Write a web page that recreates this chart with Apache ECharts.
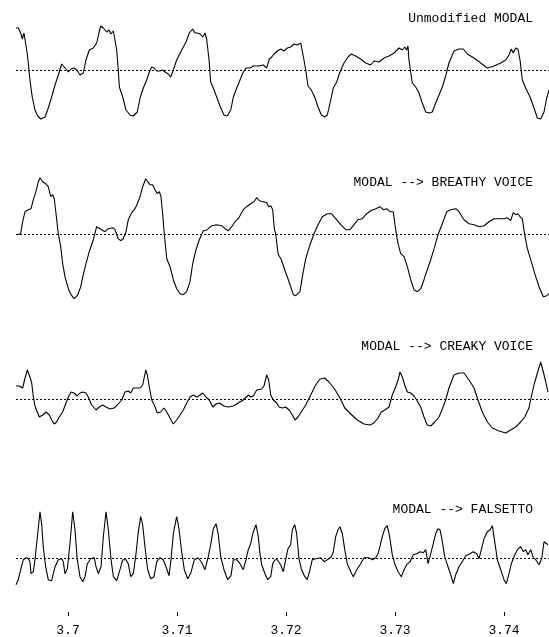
<!DOCTYPE html>
<html><head><meta charset="utf-8">
<script src="https://cdn.jsdelivr.net/npm/echarts@6/dist/echarts.min.js"></script>
<style>html,body{margin:0;padding:0;background:#fff}#c{width:549px;height:637px}</style>
</head><body><div id="c"></div>
<script>
// time in milliseconds, amplitude in arbitrary units (0 = dotted baseline)
const panelTitles = ['Unmodified MODAL', 'MODAL --> BREATHY VOICE', 'MODAL --> CREAKY VOICE', 'MODAL --> FALSETTO'];
const tickValues = [3700, 3710, 3720, 3730, 3740];
const tickLabels = ['3.7', '3.71', '3.72', '3.73', '3.74'];

const modal = [[3695.23,42],[3695.44,42],[3695.66,37],[3695.81,31],[3695.96,37],[3696.08,36],[3696.21,20],[3696.36,7],[3696.51,-10],[3696.72,-27],[3696.97,-40],[3697.22,-46],[3697.50,-49],[3697.89,-47],[3698.19,-38],[3698.50,-27],[3698.81,-15],[3699.11,-5],[3699.42,6],[3699.66,3],[3700.03,-2],[3700.28,1],[3700.55,2],[3700.80,0],[3701.10,-5],[3701.40,-3],[3701.65,10],[3701.95,20],[3702.32,22],[3702.63,27],[3702.84,37],[3703.00,44],[3703.24,42],[3703.42,43],[3703.55,38],[3703.76,40],[3703.94,36],[3704.16,39],[3704.31,37],[3704.47,20],[3704.61,0],[3704.71,-17],[3705.02,-27],[3705.32,-40],[3705.69,-45],[3705.99,-46],[3706.36,-42],[3706.61,-28],[3706.91,-18],[3707.22,-10],[3707.46,-2],[3707.68,3],[3707.89,2],[3708.14,-1],[3708.44,-1],[3708.69,0],[3708.90,-2],[3709.20,-4],[3709.42,-7],[3709.66,0],[3709.97,10],[3710.43,20],[3710.83,28],[3711.13,37],[3711.44,41],[3711.65,37],[3711.86,37],[3712.11,36],[3712.36,33],[3712.57,37],[3712.72,31],[3712.94,10],[3713.09,-12],[3713.33,-18],[3713.64,-27],[3713.94,-36],[3714.31,-45],[3714.61,-46],[3714.93,-40],[3715.17,-27],[3715.48,-18],[3715.78,-10],[3716.08,-2],[3716.33,2],[3716.70,2],[3717.00,4],[3717.46,4],[3717.92,5],[3718.23,2],[3718.47,11],[3718.69,13],[3718.90,16],[3719.20,19],[3719.51,21],[3719.82,19],[3720.12,22],[3720.43,23],[3720.73,26],[3721.04,25],[3721.35,27],[3721.50,27],[3721.65,10],[3721.81,0],[3722.02,-16],[3722.32,-20],[3722.63,-27],[3722.94,-37],[3723.24,-45],[3723.55,-47],[3723.79,-45],[3724.04,-33],[3724.34,-18],[3724.65,-12],[3724.95,-2],[3725.32,7],[3725.69,13],[3725.99,16],[3726.39,14],[3726.85,11],[3727.31,7],[3727.77,5],[3728.07,9],[3728.53,8],[3728.99,12],[3729.45,14],[3729.91,17],[3730.37,22],[3730.67,20],[3730.89,23],[3731.07,20],[3731.19,24],[3731.28,10],[3731.44,-2],[3731.59,-13],[3731.90,-17],[3732.20,-23],[3732.50,-33],[3732.82,-42],[3733.12,-43],[3733.42,-42],[3733.73,-33],[3734.04,-25],[3734.34,-17],[3734.65,-6],[3734.95,7],[3735.41,19],[3735.87,21],[3736.27,21],[3736.63,16],[3737.25,12],[3737.86,7],[3738.47,2],[3739.08,4],[3739.70,7],[3740.16,10],[3740.46,15],[3740.67,21],[3740.85,17],[3741.07,22],[3741.28,21],[3741.47,10],[3741.68,-10],[3741.99,-18],[3742.39,-27],[3742.75,-38],[3743.06,-48],[3743.37,-49],[3743.67,-42],[3743.92,-28],[3744.13,-20]];

const breathy = [[3695.29,0],[3695.44,-2],[3695.66,1],[3695.84,13],[3696.06,23],[3696.36,25],[3696.61,26],[3696.82,35],[3697.06,43],[3697.28,53],[3697.43,57],[3697.68,53],[3697.95,51],[3698.19,48],[3698.41,38],[3698.60,40],[3698.74,36],[3698.90,21],[3699.11,1],[3699.33,-12],[3699.51,-29],[3699.72,-42],[3700.03,-54],[3700.28,-60],[3700.55,-64],[3700.85,-61],[3701.17,-52],[3701.40,-40],[3701.65,-29],[3701.95,-17],[3702.32,-5],[3702.63,8],[3702.94,6],[3703.39,3],[3703.70,6],[3704.10,7],[3704.31,5],[3704.61,-4],[3704.83,-6],[3705.07,-4],[3705.32,3],[3705.53,15],[3705.84,22],[3706.15,26],[3706.36,31],[3706.61,38],[3706.85,48],[3707.13,56],[3707.31,53],[3707.52,50],[3707.77,50],[3707.98,45],[3708.19,41],[3708.38,43],[3708.53,38],[3708.69,20],[3708.83,1],[3709.06,-24],[3709.36,-32],[3709.66,-45],[3709.97,-54],[3710.28,-59],[3710.58,-60],[3710.89,-57],[3711.19,-47],[3711.44,-29],[3711.74,-15],[3712.05,-5],[3712.41,4],[3712.78,5],[3713.18,9],[3713.64,10],[3714.10,9],[3714.40,6],[3714.71,4],[3715.02,8],[3715.32,13],[3715.62,16],[3716.08,25],[3716.39,28],[3716.76,31],[3717.06,33],[3717.31,37],[3717.55,34],[3717.92,33],[3718.23,32],[3718.41,28],[3718.60,29],[3718.78,25],[3718.93,6],[3719.06,0],[3719.27,-19],[3719.57,-25],[3719.88,-35],[3720.18,-44],[3720.43,-52],[3720.67,-60],[3720.89,-61],[3721.28,-57],[3721.50,-42],[3721.81,-24],[3722.20,-10],[3722.57,1],[3722.94,10],[3723.33,18],[3723.79,21],[3724.16,21],[3724.56,16],[3725.02,10],[3725.48,5],[3725.87,5],[3726.24,10],[3726.61,15],[3727.00,16],[3727.40,21],[3727.77,24],[3728.23,26],[3728.62,28],[3728.93,25],[3729.24,26],[3729.54,23],[3729.84,23],[3730.06,5],[3730.28,-9],[3730.52,-19],[3730.83,-22],[3731.13,-32],[3731.44,-45],[3731.74,-55],[3732.05,-57],[3732.36,-54],[3732.66,-45],[3732.96,-35],[3733.28,-25],[3733.64,-12],[3733.94,0],[3734.34,11],[3734.74,23],[3735.11,25],[3735.57,26],[3735.87,23],[3736.33,15],[3736.79,11],[3737.25,10],[3737.71,8],[3738.17,9],[3738.62,13],[3739.08,16],[3739.54,16],[3740.00,16],[3740.30,17],[3740.61,14],[3740.85,22],[3741.07,20],[3741.28,21],[3741.47,18],[3741.68,16],[3741.90,0],[3742.14,-14],[3742.45,-25],[3742.82,-39],[3743.21,-52],[3743.61,-62],[3743.92,-61],[3744.13,-59]];

const creaky = [[3695.23,13],[3695.53,13],[3695.84,11],[3696.06,21],[3696.27,29],[3696.51,22],[3696.67,16],[3696.82,2],[3696.97,-7],[3697.18,-13],[3697.37,-18],[3697.68,-16],[3697.98,-13],[3698.28,-16],[3698.50,-21],[3698.74,-25],[3698.96,-23],[3699.20,-18],[3699.51,-13],[3699.82,-4],[3700.03,2],[3700.28,7],[3700.55,6],[3700.85,3],[3701.10,6],[3701.35,7],[3701.65,6],[3701.86,2],[3702.17,-6],[3702.57,-11],[3702.87,-8],[3703.18,-6],[3703.49,-8],[3703.85,-10],[3704.22,-9],[3704.52,-6],[3704.93,-1],[3705.23,7],[3705.53,8],[3705.75,6],[3705.99,11],[3706.30,11],[3706.61,11],[3706.85,14],[3707.00,22],[3707.13,29],[3707.28,24],[3707.46,12],[3707.68,-1],[3707.92,-6],[3708.19,-14],[3708.50,-13],[3708.81,-9],[3709.06,-13],[3709.36,-19],[3709.66,-25],[3709.97,-21],[3710.28,-16],[3710.58,-11],[3710.89,-4],[3711.19,2],[3711.50,4],[3711.81,2],[3712.11,4],[3712.36,6],[3712.66,2],[3712.96,-1],[3713.28,-8],[3713.58,-5],[3713.88,-4],[3714.31,-7],[3714.71,-8],[3715.17,-7],[3715.62,-4],[3716.08,-1],[3716.54,4],[3716.76,2],[3717.00,3],[3717.31,9],[3717.77,10],[3717.98,13],[3718.23,24],[3718.41,19],[3718.60,4],[3718.83,-1],[3719.15,-4],[3719.36,-8],[3719.66,-9],[3719.97,-8],[3720.28,-11],[3720.58,-16],[3720.83,-21],[3721.10,-18],[3721.40,-13],[3721.81,-6],[3722.27,4],[3722.72,14],[3723.12,20],[3723.55,21],[3723.94,17],[3724.40,11],[3724.95,1],[3725.39,-9],[3725.94,-15],[3726.54,-21],[3727.16,-25],[3727.71,-26],[3728.07,-24],[3728.44,-19],[3728.74,-13],[3729.06,-11],[3729.45,-8],[3729.75,4],[3730.06,12],[3730.28,19],[3730.46,27],[3730.67,22],[3730.89,14],[3731.13,7],[3731.44,6],[3731.74,3],[3732.05,-2],[3732.36,-8],[3732.66,-18],[3732.96,-26],[3733.28,-27],[3733.64,-23],[3734.04,-18],[3734.34,-10],[3734.65,-1],[3734.95,11],[3735.41,24],[3735.87,26],[3736.33,26],[3736.79,19],[3737.25,11],[3737.61,-1],[3738.01,-13],[3738.47,-23],[3738.93,-29],[3739.54,-32],[3740.16,-34],[3740.61,-31],[3741.07,-28],[3741.53,-23],[3741.90,-18],[3742.29,-9],[3742.50,2],[3742.75,14],[3743.06,26],[3743.37,37],[3743.61,27],[3743.83,17],[3744.04,7]];

const falsetto = [[3695.23,-26],[3695.44,-21],[3695.66,-11],[3695.90,-1],[3696.15,1],[3696.36,0],[3696.51,-3],[3696.61,-15],[3696.82,-13],[3697.00,2],[3697.22,25],[3697.43,47],[3697.59,34],[3697.73,12],[3697.95,-8],[3698.19,-21],[3698.50,-22],[3698.81,-8],[3699.11,-1],[3699.42,0],[3699.57,-3],[3699.72,-15],[3699.94,-10],[3700.18,15],[3700.43,47],[3700.64,29],[3700.85,-1],[3701.10,-18],[3701.35,-23],[3701.56,-18],[3701.77,-5],[3702.08,0],[3702.41,1],[3702.57,-8],[3702.78,-15],[3703.03,-8],[3703.24,22],[3703.49,47],[3703.70,29],[3703.94,0],[3704.16,-18],[3704.47,-22],[3704.77,-11],[3705.02,-1],[3705.32,-1],[3705.53,-5],[3705.75,-18],[3705.99,-15],[3706.24,5],[3706.45,27],[3706.67,42],[3706.85,34],[3707.06,12],[3707.31,-11],[3707.59,-20],[3707.89,-18],[3708.14,-3],[3708.44,1],[3708.74,-1],[3708.99,-8],[3709.27,-17],[3709.45,-1],[3709.66,25],[3709.97,42],[3710.18,30],[3710.43,7],[3710.67,-11],[3710.98,-20],[3711.28,-14],[3711.59,-1],[3711.95,1],[3712.27,-4],[3712.57,-11],[3712.87,2],[3713.09,14],[3713.33,30],[3713.58,35],[3713.79,24],[3714.01,2],[3714.31,-11],[3714.65,-21],[3714.95,-17],[3715.17,-1],[3715.48,-1],[3715.78,-5],[3716.08,-11],[3716.33,-1],[3716.54,9],[3716.76,15],[3717.00,27],[3717.25,34],[3717.46,22],[3717.61,5],[3717.77,-6],[3718.07,-15],[3718.32,-21],[3718.60,-18],[3718.78,-5],[3718.99,-1],[3719.20,-1],[3719.51,-6],[3719.75,-13],[3719.97,-1],[3720.18,10],[3720.43,14],[3720.58,29],[3720.80,34],[3720.98,25],[3721.19,0],[3721.40,-10],[3721.72,-18],[3721.95,-21],[3722.20,-11],[3722.41,-1],[3722.72,0],[3723.18,1],[3723.49,-3],[3723.79,-1],[3724.16,2],[3724.34,7],[3724.56,22],[3724.77,29],[3724.95,32],[3725.17,25],[3725.39,9],[3725.62,-5],[3725.94,-13],[3726.17,-18],[3726.49,-11],[3726.79,-6],[3727.16,1],[3727.61,1],[3727.92,-1],[3728.23,1],[3728.44,5],[3728.62,12],[3728.83,22],[3729.06,30],[3729.29,33],[3729.51,22],[3729.75,4],[3729.97,-5],[3730.28,-13],[3730.58,-18],[3730.83,-11],[3731.07,-6],[3731.38,-3],[3731.68,4],[3731.99,5],[3732.29,7],[3732.60,6],[3732.82,9],[3733.03,-5],[3733.28,5],[3733.51,15],[3733.73,25],[3733.94,30],[3734.13,29],[3734.34,17],[3734.56,2],[3734.80,-6],[3735.11,-16],[3735.35,-25],[3735.57,-16],[3735.87,-8],[3736.17,-3],[3736.49,3],[3736.88,5],[3737.18,7],[3737.50,5],[3737.71,0],[3737.92,9],[3738.17,20],[3738.47,27],[3738.72,29],[3738.93,33],[3739.15,17],[3739.39,-1],[3739.70,-11],[3740.00,-21],[3740.21,-25],[3740.46,-15],[3740.67,-5],[3740.92,2],[3741.22,9],[3741.53,12],[3741.77,7],[3741.99,9],[3742.20,4],[3742.45,9],[3742.69,1],[3742.91,-1],[3743.21,-6],[3743.46,0],[3743.67,17],[3743.83,17],[3744.04,14]];

const panels = [modal, breathy, creaky, falsetto];

const X_MIN = 3695.229, X_MAX = 3744.128;
const FONT = 'Liberation Mono';
const baselines = [70, 234.7, 399, 558.7];
const titleTops = [11, 175.5, 339, 502.5];
const HALF = 65;

const chart = echarts.init(document.getElementById('c'), null, {renderer: 'canvas'});
const grid = [], xAxis = [], yAxis = [], series = [], title = [];
panels.forEach((d, i) => {
  grid.push({left: 16, right: 0, top: baselines[i] - HALF, height: 2 * HALF});
  xAxis.push({type: 'value', gridIndex: i, min: X_MIN, max: X_MAX, show: false});
  yAxis.push({type: 'value', gridIndex: i, min: -HALF, max: HALF, show: false});
  title.push({text: panelTitles[i], right: 16, top: titleTops[i], padding: 0,
    textStyle: {fontFamily: FONT, fontSize: 13, fontWeight: 'normal', color: '#000', lineHeight: 15}});
  series.push({
    type: 'line', xAxisIndex: i, yAxisIndex: i, data: d, showSymbol: false, symbol: 'none',
    lineStyle: {color: '#000', width: 1.1}, silent: true, sampling: null,
    markLine: {silent: true, symbol: 'none', label: {show: false},
      lineStyle: {color: '#000', width: 1, type: [2, 2]}, data: [{yAxis: 0}]}
  });
});
// time axis at the bottom
grid.push({left: 16, right: 0, top: 560, height: 53});
xAxis.push({type: 'value', gridIndex: 4, min: X_MIN, max: X_MAX, position: 'bottom',
  axisLine: {show: false}, splitLine: {show: false},
  axisTick: {show: true, length: 4, lineStyle: {color: '#000'}, customValues: tickValues},
  axisLabel: {show: true, customValues: tickValues, margin: 12,
    formatter: v => tickLabels[tickValues.indexOf(Math.round(v))] || '',
    fontFamily: FONT, fontSize: 13, color: '#000'}});
yAxis.push({type: 'value', gridIndex: 4, min: 0, max: 1, show: false});

chart.setOption({animation: false, backgroundColor: '#fff', title, grid, xAxis, yAxis, series});
</script></body></html>
